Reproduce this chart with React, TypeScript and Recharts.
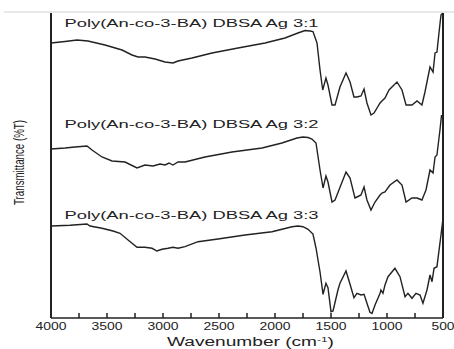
import React from "react";
import { LineChart, Line, XAxis, YAxis } from "recharts";

// Wavenumbers (cm-1) and offset transmittance values
const wn31 = [4000, 3875, 3768, 3670, 3518, 3366, 3277, 3223, 3161, 3071, 2982, 2911, 2866, 2741, 2562, 2330, 2089, 1911, 1795, 1732, 1688, 1661, 1625, 1598, 1574, 1545, 1527, 1491, 1464, 1420, 1366, 1330, 1295, 1268, 1232, 1205, 1179, 1143, 1116, 1062, 1045, 1018, 982, 911, 866, 830, 777, 732, 688, 661, 616, 589, 571, 554, 536, 518, 502];
const t31 = [275, 276.5, 278, 277, 273, 268, 263, 261, 261, 259, 256, 255, 257, 260, 265, 270, 275, 280, 285, 287.5, 287, 286.5, 275, 248, 228, 240, 233, 213, 213, 231, 245, 236, 221, 221, 222, 229, 215, 203, 205, 215, 217, 220, 228, 236, 228, 213, 213, 217, 213, 226, 251, 246, 265, 266, 285, 303, 305];

const wn32 = [4000, 3875, 3786, 3679, 3634, 3545, 3455, 3339, 3232, 3161, 3089, 3027, 2982, 2946, 2911, 2866, 2804, 2625, 2384, 2116, 1938, 1804, 1750, 1705, 1670, 1634, 1598, 1571, 1545, 1527, 1491, 1464, 1366, 1330, 1286, 1268, 1232, 1205, 1179, 1143, 1107, 1062, 1045, 1018, 973, 911, 866, 830, 777, 732, 688, 652, 616, 589, 571, 554, 527, 513];
const t32 = [169, 170, 171, 172, 168, 161, 157, 156, 150, 153, 152, 154, 153, 155, 153, 156, 156, 161, 166, 170, 175, 180, 181, 180.5, 179, 175, 148, 130, 142, 136, 116, 118, 146, 140, 120, 121, 123, 131, 118, 108, 116, 123, 125, 126, 133, 138, 133, 116, 120, 120, 118, 128, 148, 145, 161, 163, 188, 203];

const wn33 = [4000, 3830, 3679, 3652, 3545, 3446, 3384, 3312, 3232, 3161, 3098, 3054, 3009, 2955, 2911, 2866, 2804, 2687, 2509, 2268, 2027, 1848, 1795, 1750, 1705, 1661, 1634, 1616, 1598, 1571, 1545, 1527, 1500, 1482, 1438, 1420, 1366, 1330, 1295, 1268, 1232, 1205, 1179, 1152, 1134, 1107, 1062, 1054, 1036, 1018, 991, 929, 884, 839, 813, 777, 741, 705, 679, 643, 616, 598, 580, 554, 518, 500];
const t33 = [92, 92.7, 94, 92, 89.7, 87, 84.7, 78, 70.7, 70.7, 69.7, 67, 68.7, 69.7, 70.7, 69.7, 71.3, 76.3, 79, 83, 86.3, 91.3, 92, 91.3, 88.7, 84, 70, 58, 46, 23.7, 34.7, 30.3, 6.3, 7, 28, 34.7, 47, 33.7, 20.3, 24.7, 23, 23.7, 14.7, 5.7, 4.5, 13, 24.7, 28, 24.7, 33, 41.3, 49.7, 41.3, 21.3, 24.7, 19.7, 24.7, 23, 14.7, 28, 43, 36.3, 49.7, 51.3, 83, 99.7];

const xTicks = [4000, 3750, 3500, 3250, 3000, 2750, 2500, 2250, 2000, 1750, 1500, 1250, 1000, 750, 500];
const seriesNames = [
  "Poly(An-co-3-BA) DBSA Ag 3:1",
  "Poly(An-co-3-BA) DBSA Ag 3:2",
  "Poly(An-co-3-BA) DBSA Ag 3:3",
];

const toRows = (w: number[], t: number[]) => w.map((v, i) => ({ wn: v, t: t[i] }));
const d1 = toRows(wn31, t31);
const d2 = toRows(wn32, t32);
const d3 = toRows(wn33, t33);

const FONT = "Arial, 'Liberation Sans', sans-serif";
const INK = "#222";

// plot frame geometry (layout only)
const PL = 51, PR = 443, PT = 13, PB = 318;

const Tick = (props: any) => {
  const { x, payload } = props;
  const v = payload.value;
  const major = v % 500 === 0;
  const label = String(v);
  return (
    <g>
      <rect x={x - 0.75} y={PB - 5} width={1.5} height={5} fill={INK} />
      {major && (
        <text
          x={x}
          y={PB + 12}
          textAnchor="middle"
          fontSize={11}
          fontFamily={FONT}
          fill={INK}
          textLength={label.length === 4 ? 31 : 23}
          lengthAdjust="spacingAndGlyphs"
        >
          {label}
        </text>
      )}
    </g>
  );
};

export default function App() {
  return (
    <div style={{ position: "absolute", left: 0, top: 0, width: 454, height: 349, background: "#fff" }}>
      <LineChart width={454} height={349} margin={{ top: PT, right: 454 - PR, bottom: 349 - PB - 30, left: PL }}>
        <XAxis
          dataKey="wn"
          type="number"
          domain={[500, 4000]}
          reversed
          ticks={xTicks}
          interval={0}
          tickLine={false}
          tickSize={0}
          tickMargin={0}
          height={30}
          axisLine={{ stroke: INK, strokeWidth: 1.6 }}
          tick={<Tick />}
        />
        <YAxis type="number" domain={[0, 305]} hide />
        <Line data={d1} dataKey="t" type="linear" stroke={INK} strokeWidth={1.4} dot={false} isAnimationActive={false} />
        <Line data={d2} dataKey="t" type="linear" stroke={INK} strokeWidth={1.4} dot={false} isAnimationActive={false} />
        <Line data={d3} dataKey="t" type="linear" stroke={INK} strokeWidth={1.4} dot={false} isAnimationActive={false} />
      </LineChart>
      <svg width={454} height={349} style={{ position: "absolute", left: 0, top: 0, pointerEvents: "none" }}>
        <rect x={4} y={11.5} width={450} height={1} fill="#d4d4d4" />
        <rect x={PL - 1} y={PT} width={2} height={PB - PT} fill={INK} />
        <rect x={PR - 1} y={PT} width={2} height={PB - PT} fill={INK} />
        {seriesNames.map((s, i) => (
          <text
            key={s}
            x={64.5}
            y={[27, 127.5, 218.5][i]}
            fontSize={11.5}
            fontFamily={FONT}
            fill={INK}
            textLength={254}
            lengthAdjust="spacingAndGlyphs"
          >
            {s}
          </text>
        ))}
        <text
          x={24}
          y={162.5}
          transform="rotate(-90 24 162.5)"
          textAnchor="middle"
          fontSize={14}
          fontFamily={FONT}
          fill={INK}
          textLength={85}
          lengthAdjust="spacingAndGlyphs"
        >
          Transmittance (%T)
        </text>
        <text
          x={167}
          y={346}
          fontSize={12}
          fontFamily={FONT}
          fill={INK}
          textLength={167}
          lengthAdjust="spacingAndGlyphs"
        >
          Wavenumber  (cm<tspan fontSize={7.5} dy={-4.5}>-1</tspan><tspan dy={4.5}>)</tspan>
        </text>
      </svg>
    </div>
  );
}
